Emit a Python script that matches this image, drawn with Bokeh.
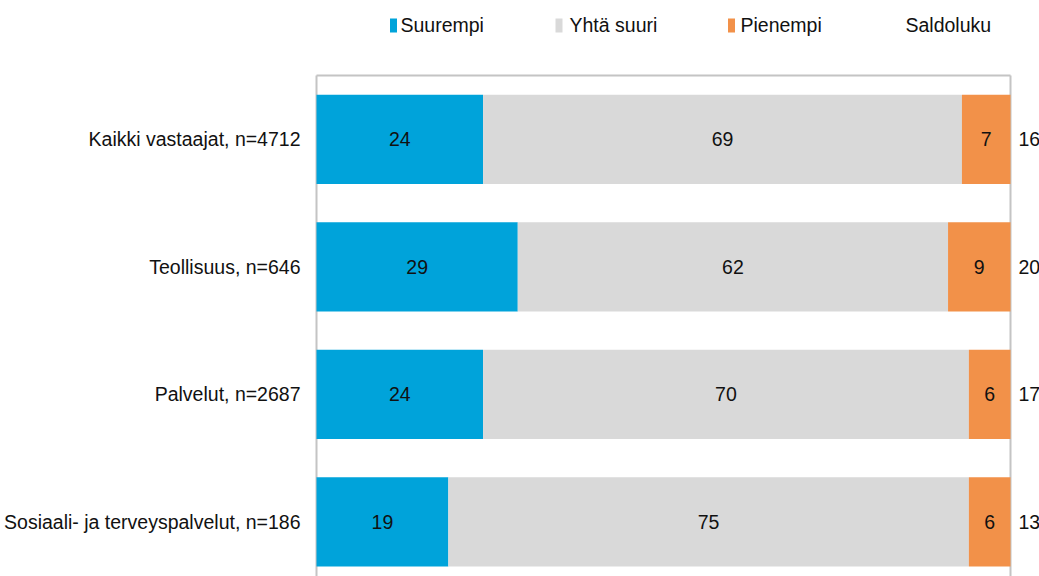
from bokeh.plotting import figure
from bokeh.models import ColumnDataSource, Range1d
from bokeh.core.properties import value
from bokeh.embed import file_html
from bokeh.resources import INLINE

# ---- data -------------------------------------------------------------
categories = ["Kaikki vastaajat, n=4712", "Teollisuus, n=646",
              "Palvelut, n=2687", "Sosiaali- ja terveyspalvelut, n=186"]
series = ["Suurempi", "Yhtä suuri", "Pienempi"]
suurempi = [24, 29, 24, 19]
yhta_suuri = [69, 62, 70, 75]
pienempi = [7, 9, 6, 6]
saldoluku = [16, 20, 17, 13]
saldo_name = "Saldoluku"
colors = ["#00A3DA", "#D9D9D9", "#F29149"]

FONT = "Liberation Sans"
TXT = "#111111"
FS = "19.5px"

# ---- layout (pixels inside the canvas) --------------------------------
W, H = 1039, 576
FRAME_L, FRAME_R, FRAME_T = 316, 1010, 75
SLOT = 127.5
idx = list(range(len(categories)))
totals = [a + b + c for a, b, c in zip(suurempi, yhta_suuri, pienempi)]
xmax = max(totals)
ppu = (FRAME_R - FRAME_L) / xmax
x0 = -FRAME_L / ppu
x1 = xmax + (W - FRAME_R) / ppu
ytop = -0.5 - FRAME_T / SLOT
ybot = -0.5 + (H - FRAME_T) / SLOT

def px_to_x(px):
    return x0 + px / ppu

def py_to_y(py):
    return ytop + py / SLOT

p = figure(width=W, height=H, output_backend="svg", toolbar_location=None,
           x_range=Range1d(x0, x1), y_range=Range1d(ybot, ytop),
           min_border=0)
p.axis.visible = False
p.grid.visible = False
p.outline_line_color = None

# frame lines (top, left, right)
p.segment(x0=[0, 0, xmax], y0=[-0.5, -0.5, -0.5], x1=[xmax, 0, xmax],
          y1=[-0.5, ybot, ybot], line_color="#C4C4C4", line_width=2)

source = ColumnDataSource(dict(y=idx, s=suurempi, e=yhta_suuri, p=pienempi))
p.hbar_stack(["s", "e", "p"], y="y", height=0.7, color=colors,
             line_color=None, source=source)

# bar value labels
lx, ly, lt = [], [], []
for i in idx:
    left = 0
    for vals in (suurempi, yhta_suuri, pienempi):
        v = vals[i]
        lx.append(left + v / 2)
        ly.append(i)
        lt.append(str(v))
        left += v
p.text(x=lx, y=ly, text=lt, text_align="center", text_baseline="middle",
       text_font=value(FONT), text_font_size=value(FS), text_color=TXT)

# saldo labels
p.text(x=totals, y=idx, text=[str(v) for v in saldoluku], x_offset=8,
       text_align="left", text_baseline="middle",
       text_font=value(FONT), text_font_size=value(FS), text_color=TXT)

# category labels
p.text(x=[0] * len(idx), y=idx, text=categories, x_offset=-16,
       text_align="right", text_baseline="middle",
       text_font=value(FONT), text_font_size=value(FS), text_color=TXT)

# legend (marker centre pixel positions + text start pixel positions)
leg_marker_px = [393, 558.5, 731]
leg_text_px = [400, 569, 740, 905]
p.rect(x=[px_to_x(v) for v in leg_marker_px], y=[py_to_y(25)] * 3,
       width=7, height=14, width_units="screen", height_units="screen",
       fill_color=colors, line_color=None)
p.text(x=[px_to_x(v) for v in leg_text_px], y=[py_to_y(24)] * 4,
       text=series + [saldo_name], text_align="left", text_baseline="middle",
       text_font=value(FONT), text_font_size=value(FS), text_color=TXT)

open("out.html", "w").write(file_html(p, INLINE))
